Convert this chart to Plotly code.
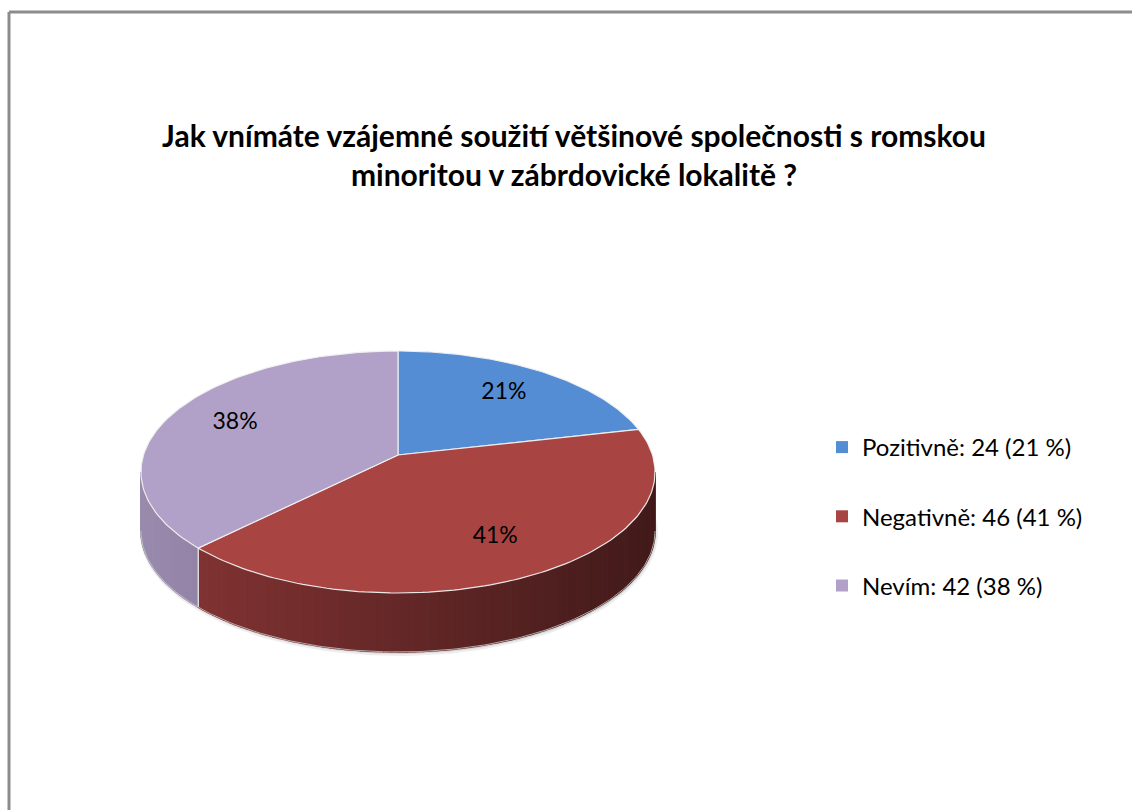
import numpy as np
import plotly.graph_objects as go

# ---- data ----
categories = ["Pozitivně", "Negativně", "Nevím"]
counts = [24, 46, 42]
percent_labels = ["21%", "41%", "38%"]
legend_labels = ["Pozitivně: 24 (21 %)", "Negativně: 46 (41 %)", "Nevím: 42 (38 %)"]
title_lines = ["Jak vnímáte vzájemné soužití většinové společnosti s romskou",
               "minoritou v zábrdovické lokalitě ?"]

# ---- style ----
top_colors = [(85, 141, 213), (168, 68, 66), (177, 160, 199)]
side_left = [(70, 115, 175), (128, 50, 50), (153, 139, 173)]
side_right = [(50, 85, 135), (66, 26, 26), (147, 132, 167)]
FONT = "Lato"

# body margin removed via post_script; axes map 1:1 to screen px
OFF = 0
W, H = 1132, 810
CX, CY, RX, RY, PERSP, DEPTH = 398, 455, 254.5, 118.6, 0.1405, 59
LABEL_R = 0.72


def pt(theta_deg, r=1.0, dy=0.0):
    t = np.radians(theta_deg)
    u, v = r * np.sin(t), r * np.cos(t)
    s = 1.0 / (1.0 + PERSP * v)
    return CX + RX * u * s, CY - RY * v * s + dy


def rgb(c):
    return "rgb(%d,%d,%d)" % tuple(int(round(v)) for v in c)


def px(sx):
    return (sx - OFF) / W


def py(sy):
    return 1 - (sy - OFF) / H


fig = go.Figure()

total = sum(counts)
starts, ends = [], []
acc = 0.0
for v in counts:
    starts.append(acc / total * 360.0)
    acc += v
    ends.append(acc / total * 360.0)

SIL = np.degrees(np.arccos(-PERSP))  # silhouette angle of the front wall

# soft shadow under the pie
sh = np.linspace(0, 360, 240)
sx, sy = pt(sh, 1.0, DEPTH + 2)
fig.add_trace(go.Scatter(x=list(sx + 1), y=list(sy), mode="lines", fill="toself",
                         fillcolor="rgba(0,0,0,0.10)", line=dict(width=4, color="rgba(0,0,0,0.07)"),
                         showlegend=False, hoverinfo="skip"))

# side walls (front part)
for i in range(len(counts)):
    a = max(starts[i], SIL)
    b = min(ends[i], 360.0 - SIL)
    if b <= a:
        continue
    n = max(2, int((b - a) / 1.5))
    edges = np.linspace(a, b, n + 1)
    xa, _ = pt(a)
    xb, _ = pt(b)
    lo, hi = min(xa, xb), max(xa, xb)
    for k in range(n):
        t0, t1 = edges[k], edges[k + 1]
        ts = np.linspace(t0, t1, 4)
        xs_t, ys_t = pt(ts)
        xs_b, ys_b = pt(ts[::-1], 1.0, DEPTH)
        xm, _ = pt((t0 + t1) / 2)
        g = 0 if hi == lo else (xm - lo) / (hi - lo)
        col = tuple(side_left[i][j] * (1 - g) + side_right[i][j] * g for j in range(3))
        fig.add_trace(go.Scatter(x=list(xs_t) + list(xs_b), y=list(ys_t) + list(ys_b),
                                 mode="lines", fill="toself", fillcolor=rgb(col),
                                 line=dict(width=1.6, color=rgb(col)),
                                 showlegend=False, hoverinfo="skip"))
    for t in (a, b):
        if SIL < t < 360.0 - SIL:
            x0, y0 = pt(t)
            x1, y1 = pt(t, 1.0, DEPTH)
            fig.add_trace(go.Scatter(x=[x0, x1], y=[y0, y1], mode="lines",
                                     line=dict(width=1.2, color="rgba(235,235,235,0.9)"),
                                     showlegend=False, hoverinfo="skip"))

# bottom rim highlight
rim = np.linspace(SIL, 360 - SIL, 150)
rx_, ry_ = pt(rim, 1.0, DEPTH)
fig.add_trace(go.Scatter(x=list(rx_), y=list(ry_), mode="lines",
                         line=dict(width=1, color="rgba(200,200,200,0.8)"),
                         showlegend=False, hoverinfo="skip"))

# top faces
for i in range(len(counts)):
    ts = np.linspace(starts[i], ends[i], 120)
    xs, ys = pt(ts)
    fig.add_trace(go.Scatter(x=[CX] + list(xs) + [CX], y=[CY] + list(ys) + [CY],
                             mode="lines", fill="toself", fillcolor=rgb(top_colors[i]),
                             line=dict(width=1.2, color="rgba(240,240,240,0.95)"),
                             showlegend=False, hoverinfo="skip"))

# legend entries (square swatches)
for i in range(len(counts)):
    fig.add_trace(go.Scatter(x=[None], y=[None], mode="markers",
                             marker=dict(symbol="square", size=12, color=rgb(top_colors[i])),
                             name=legend_labels[i], legendgroup=categories[i], showlegend=True))

# percentage labels
lx, ly = [], []
for i in range(len(counts)):
    mid = (starts[i] + ends[i]) / 2
    x, y = pt(mid, LABEL_R)
    lx.append(x)
    ly.append(y)
fig.add_trace(go.Scatter(x=lx, y=ly, mode="text", text=percent_labels,
                         textfont=dict(family=FONT, size=23, color="#000000"),
                         showlegend=False, hoverinfo="skip"))

fig.update_layout(
    width=W, height=H,
    margin=dict(l=0, r=0, t=0, b=0),
    paper_bgcolor="white", plot_bgcolor="white",
    xaxis=dict(range=[OFF, OFF + W], visible=False, fixedrange=True),
    yaxis=dict(range=[OFF + H, OFF], visible=False, fixedrange=True),
    title=dict(text="<br>".join(title_lines), x=px(574), xanchor="center",
               y=py(147), yanchor="middle",
               font=dict(family=FONT, size=30, color="#000000", weight="bold")),
    legend=dict(x=px(822), y=py(425), xanchor="left", yanchor="top",
                font=dict(family=FONT, size=24, color="#000000"),
                tracegroupgap=35, itemwidth=30, bgcolor="rgba(0,0,0,0)"),
    showlegend=True,
    shapes=[
        dict(type="line", xref="paper", yref="paper",
             x0=px(9), x1=1.0, y0=py(12), y1=py(12),
             line=dict(color="#8c8c8c", width=3)),
        dict(type="line", xref="paper", yref="paper",
             x0=px(9), x1=px(9), y0=py(12), y1=0.0,
             line=dict(color="#8c8c8c", width=3)),
    ],
)

fig.write_html("out.html",
               config={"displayModeBar": False},
               post_script="document.body.style.margin='0';document.body.style.overflow='hidden';")
